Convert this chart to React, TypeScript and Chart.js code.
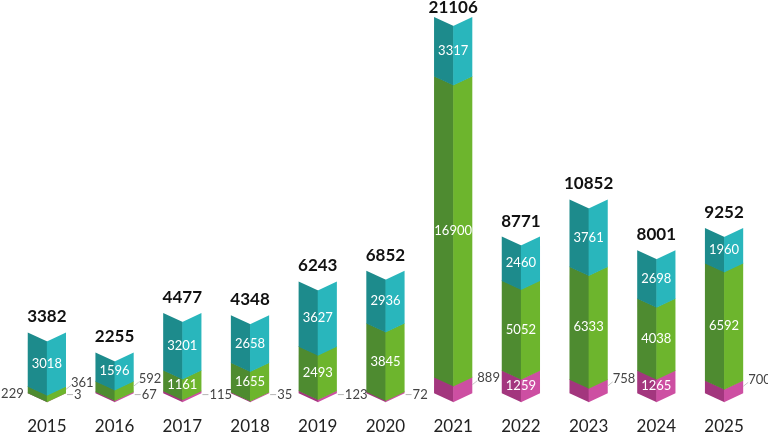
import { useEffect, useRef } from 'react';
import { Chart, registerables } from 'chart.js';

Chart.register(...registerables);

const years = ['2015', '2016', '2017', '2018', '2019', '2020', '2021', '2022', '2023', '2024', '2025'];
const pinkValues = [3, 67, 115, 35, 123, 72, 889, 1259, 758, 1265, 700];
const greenValues = [361, 592, 1161, 1655, 2493, 3845, 16900, 5052, 6333, 4038, 6592];
const tealValues = [3018, 1596, 3201, 2658, 3627, 2936, 3317, 2460, 3761, 2698, 1960];
const totals = [3382, 2255, 4477, 4348, 6243, 6852, 21106, 8771, 10852, 8001, 9252];
const leftNotes = ['229', '', '', '', '', '', '', '', '', '', ''];

const darkColors = ['#A3367E', '#4E8B30', '#1D8B8C'];
const lightColors = ['#CD4FA2', '#6DB52D', '#29B6BC'];
const FONT = 'Lato, "Noto Sans", sans-serif';

const chevronPlugin = {
  id: 'chevron',
  afterDatasetsDraw(chart: any) {
    const ctx: CanvasRenderingContext2D = chart.ctx;
    const d = 9;
    ctx.save();
    const metas = chart.data.datasets.map((_: any, i: number) => chart.getDatasetMeta(i));
    metas.forEach((meta: any, i: number) => {
      meta.data.forEach((el: any) => {
        const { x, y, base, width } = el.getProps(['x', 'y', 'base', 'width'], true);
        const l = x - width / 2;
        const r = x + width / 2;
        const top = Math.min(y, base);
        const bot = Math.max(y, base) + 0.6;
        ctx.fillStyle = darkColors[i];
        ctx.beginPath();
        ctx.moveTo(l, top);
        ctx.lineTo(x + 0.5, top + d);
        ctx.lineTo(x + 0.5, bot + d);
        ctx.lineTo(l, bot);
        ctx.closePath();
        ctx.fill();
        ctx.fillStyle = lightColors[i];
        ctx.beginPath();
        ctx.moveTo(x, top + d);
        ctx.lineTo(r, top);
        ctx.lineTo(r, bot);
        ctx.lineTo(x, bot + d);
        ctx.closePath();
        ctx.fill();
      });
    });

    // segment labels
    metas.forEach((meta: any, i: number) => {
      const values = chart.data.datasets[i].data as number[];
      meta.data.forEach((el: any, j: number) => {
        const { x, y, base, width } = el.getProps(['x', 'y', 'base', 'width'], true);
        const v = values[j];
        const r = x + width / 2;
        const top = Math.min(y, base);
        const bot = Math.max(y, base);
        const mid = (top + bot) / 2;
        if (v >= 1000) {
          ctx.fillStyle = '#ffffff';
          ctx.font = `13px ${FONT}`;
          ctx.textAlign = 'center';
          ctx.textBaseline = 'middle';
          ctx.fillText(String(v), x, mid + d / 2);
        } else if (v < 200) {
          const ly = bot + 2;
          ctx.strokeStyle = '#b5b5b5';
          ctx.lineWidth = 1;
          ctx.beginPath();
          ctx.moveTo(r + 1, ly);
          ctx.lineTo(r + 7, ly);
          ctx.stroke();
          ctx.fillStyle = '#444';
          ctx.font = `13px ${FONT}`;
          ctx.textAlign = 'left';
          ctx.textBaseline = 'middle';
          ctx.fillText(String(v), r + 8, ly);
        } else {
          const ly = mid - 7;
          ctx.strokeStyle = '#c5c5c5';
          ctx.lineWidth = 1;
          ctx.beginPath();
          ctx.moveTo(r, mid);
          ctx.lineTo(r + 5, mid - 4);
          ctx.stroke();
          ctx.fillStyle = '#444';
          ctx.font = `13px ${FONT}`;
          ctx.textAlign = 'left';
          ctx.textBaseline = 'middle';
          ctx.fillText(String(v), r + 5, ly);
        }
      });
    });

    // totals and left notes
    const topMeta = metas[metas.length - 1];
    const firstMeta = metas[0];
    topMeta.data.forEach((el: any, j: number) => {
      const { x, y, base } = el.getProps(['x', 'y', 'base'], true);
      const top = Math.min(y, base);
      ctx.fillStyle = '#111';
      ctx.font = `bold 17px ${FONT}`;
      ctx.textAlign = 'center';
      ctx.textBaseline = 'alphabetic';
      ctx.fillText(String(totals[j]), x, Math.max(top - 10, 13));
    });
    firstMeta.data.forEach((el: any, j: number) => {
      if (!leftNotes[j]) return;
      const { x, base, width } = el.getProps(['x', 'base', 'width'], true);
      ctx.fillStyle = '#444';
      ctx.font = `13px ${FONT}`;
      ctx.textAlign = 'right';
      ctx.textBaseline = 'middle';
      ctx.fillText(leftNotes[j], x - width / 2 - 4, base + 1);
    });
    ctx.restore();
  },
};

export default function App() {
  const ref = useRef<HTMLCanvasElement>(null);
  useEffect(() => {
    document.body.style.margin = '0';
    const chart = new Chart(ref.current as HTMLCanvasElement, {
      type: 'bar',
      data: {
        labels: years,
        datasets: [
          { data: pinkValues, backgroundColor: 'rgba(0,0,0,0)', stack: 's' },
          { data: greenValues, backgroundColor: 'rgba(0,0,0,0)', stack: 's' },
          { data: tealValues, backgroundColor: 'rgba(0,0,0,0)', stack: 's' },
        ],
      },
      options: {
        animation: false,
        responsive: true,
        maintainAspectRatio: false,
        layout: { padding: { left: 13, right: 5, top: 0, bottom: -28 } },
        datasets: { bar: { categoryPercentage: 1, barPercentage: 0.565 } },
        plugins: { legend: { display: false }, tooltip: { enabled: false } },
        scales: {
          x: {
            stacked: true,
            grid: { display: false, drawTicks: false },
            border: { display: false },
            ticks: { color: '#222', font: { family: FONT, size: 17 }, padding: 24 },
          },
          y: {
            stacked: true,
            display: false,
            min: 0,
            max: 22060,
          },
        },
      },
      plugins: [chevronPlugin],
    } as any);
    return () => chart.destroy();
  }, []);
  return (
    <div style={{ position: 'fixed', left: 0, top: 0, width: 768, height: 433 }}>
      <canvas ref={ref} />
    </div>
  );
}
